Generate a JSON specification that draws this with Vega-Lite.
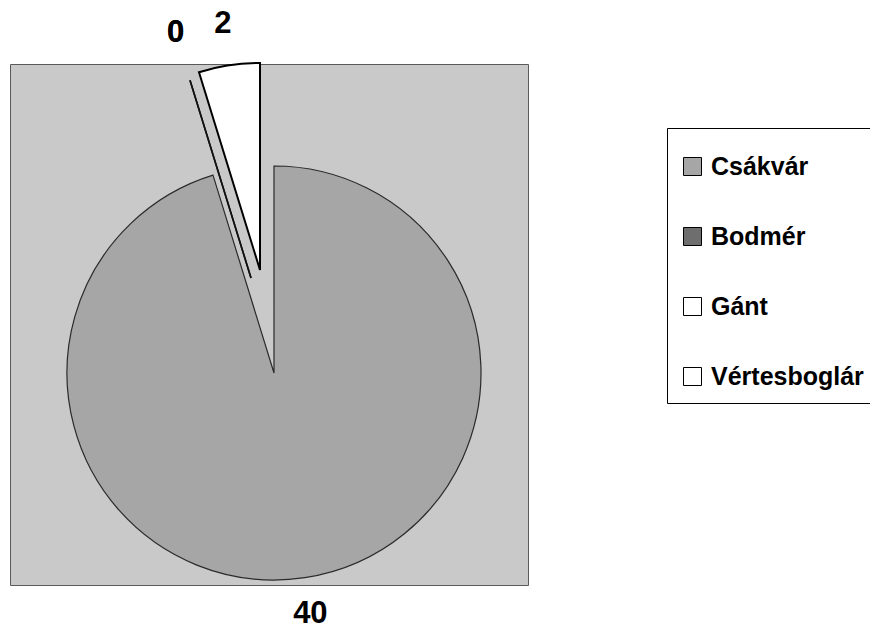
{
  "$schema": "https://vega.github.io/schema/vega-lite/v6.json",
  "width": 518,
  "height": 521,
  "autosize": {"type": "none"},
  "padding": {"left": 10, "top": 64, "right": 342, "bottom": 49},
  "background": "white",
  "view": {"fill": "#c9c9c9", "stroke": "#5a5a5a", "strokeWidth": 1},
  "data": {
    "values": [
      {"name": "Csákvár", "value": 40, "idx": 1},
      {"name": "Bodmér", "value": 0, "idx": 2},
      {"name": "Gánt", "value": 0, "idx": 3},
      {"name": "Vértesboglár", "value": 2, "idx": 4}
    ]
  },
  "encoding": {
    "theta": {"field": "value", "type": "quantitative", "stack": true, "scale": {"nice": false}},
    "order": {"field": "idx", "type": "quantitative", "sort": "ascending"},
    "color": {
      "field": "name",
      "type": "nominal",
      "scale": {
        "domain": ["Csákvár", "Bodmér", "Gánt", "Vértesboglár"],
        "range": ["#a6a6a6", "#6e6e6e", "#ffffff", "#ffffff"]
      },
      "legend": {
        "title": " ",
        "titleFontSize": 13,
        "titlePadding": 0,
        "orient": "none",
        "legendX": 657,
        "legendY": 64,
        "padding": 13,
        "strokeColor": "#000000",
        "fillColor": "#ffffff",
        "symbolType": "square",
        "symbolSize": 324,
        "symbolStrokeColor": "#000000",
        "symbolStrokeWidth": 1,
        "symbolOpacity": 1,
        "labelFont": "Liberation Sans",
        "labelFontWeight": "bold",
        "labelFontSize": 25,
        "labelColor": "#000000",
        "labelOffset": 6,
        "labelLimit": 400,
        "rowPadding": 44
      }
    }
  },
  "layer": [
    {
      "mark": {"type": "arc", "outerRadius": 207, "xOffset": 5, "yOffset": 48.5, "stroke": "#2a2a2a", "strokeWidth": 1.2},
      "encoding": {
        "opacity": {"condition": {"test": "datum.name === 'Csákvár'", "value": 1}, "value": 0}
      }
    },
    {
      "mark": {"type": "arc", "outerRadius": 207, "xOffset": -18, "yOffset": -46.5, "stroke": "#111111", "strokeWidth": 1.6},
      "encoding": {
        "opacity": {"condition": {"test": "datum.name === 'Bodmér' || datum.name === 'Gánt'", "value": 1}, "value": 0}
      }
    },
    {
      "mark": {"type": "arc", "outerRadius": 207, "xOffset": -9, "yOffset": -54.5, "stroke": "#000000", "strokeWidth": 2},
      "encoding": {
        "opacity": {"condition": {"test": "datum.name === 'Vértesboglár'", "value": 1}, "value": 0}
      }
    },
    {
      "mark": {"type": "text", "radius": 244, "xOffset": 5, "yOffset": 48.5, "font": "Liberation Sans", "fontWeight": "bold", "fontSize": 31, "align": "center", "baseline": "middle"},
      "encoding": {
        "color": {"value": "#000000"},
        "detail": {"field": "name", "type": "nominal"},
        "text": {"condition": {"test": "datum.name === 'Csákvár'", "field": "value", "type": "quantitative"}, "value": ""}
      }
    },
    {
      "mark": {"type": "text", "radius": 256, "xOffset": -18, "yOffset": -46.5, "font": "Liberation Sans", "fontWeight": "bold", "fontSize": 31, "align": "center", "baseline": "middle"},
      "encoding": {
        "color": {"value": "#000000"},
        "detail": {"field": "name", "type": "nominal"},
        "text": {"condition": {"test": "datum.name === 'Bodmér' || datum.name === 'Gánt'", "field": "value", "type": "quantitative"}, "value": ""}
      }
    },
    {
      "mark": {"type": "text", "radius": 249, "xOffset": -9, "yOffset": -54.5, "font": "Liberation Sans", "fontWeight": "bold", "fontSize": 31, "align": "center", "baseline": "middle"},
      "encoding": {
        "color": {"value": "#000000"},
        "detail": {"field": "name", "type": "nominal"},
        "text": {"condition": {"test": "datum.name === 'Vértesboglár'", "field": "value", "type": "quantitative"}, "value": ""}
      }
    }
  ]
}
